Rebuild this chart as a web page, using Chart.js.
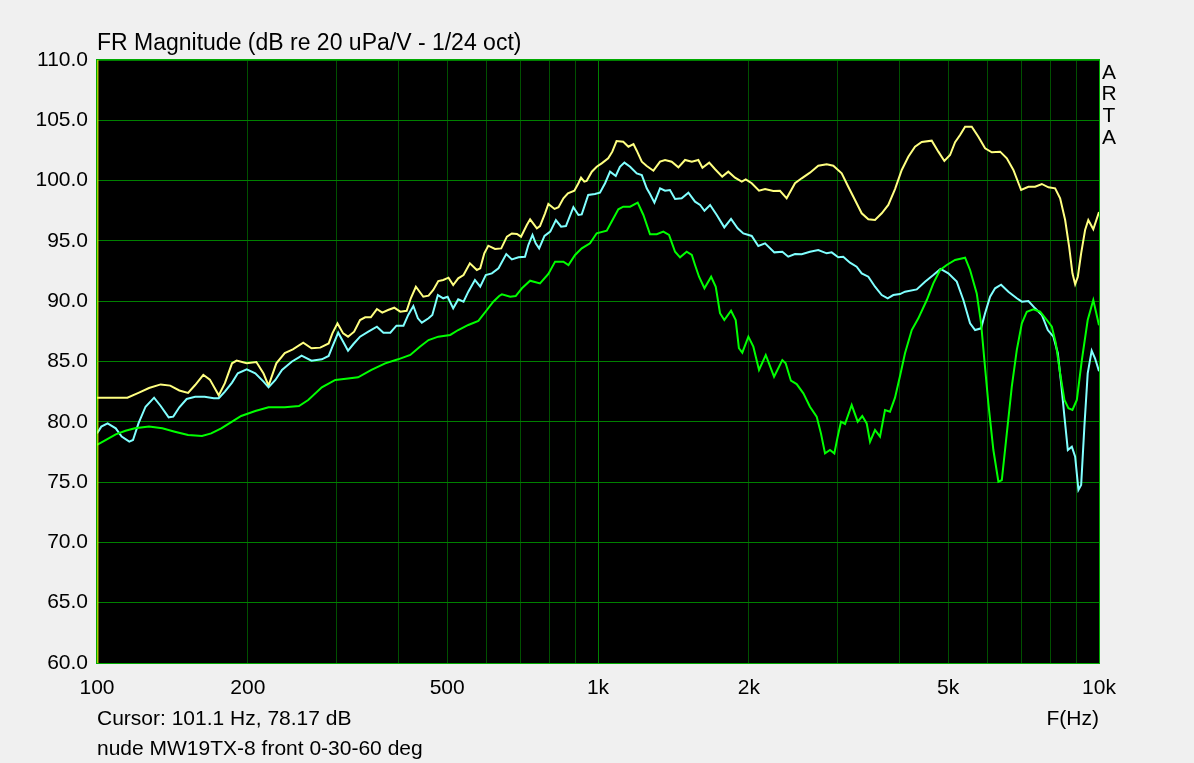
<!DOCTYPE html>
<html><head><meta charset="utf-8">
<script src="https://cdn.jsdelivr.net/npm/chart.js@4.4.1/dist/chart.umd.min.js"></script>
<style>html,body{margin:0;padding:0;background:#f0f0f0;overflow:hidden}</style>
</head><body>
<canvas id="c" width="1194" height="763"></canvas>
<script>
// ---- data ----
const xTicks = [100,200,300,400,500,600,700,800,900,1000,2000,3000,4000,5000,6000,7000,8000,9000,10000];
const xTickLabels = {100:'100',200:'200',500:'500',1000:'1k',2000:'2k',5000:'5k',10000:'10k'};
const yTicks = [60,65,70,75,80,85,90,95,100,105,110];

const yellowHz = [100,115,121,127,134,140,146,152,157,163,168,175,180,186,190,199,208,215,220,228,237,246,258,268,279,290,295,302,310,317,326,335,343,352,362,371,381,392,403,415,423,433,448,459,469,480,491,503,514,526,539,555,573,582,593,604,623,641,658,673,689,702,721,732,755,766,784,796,819,834,853,871,897,914,925,939,949,972,994,1017,1048,1068,1089,1123,1150,1177,1195,1223,1251,1290,1330,1361,1403,1447,1492,1539,1586,1616,1667,1713,1770,1820,1877,1936,1972,2027,2096,2155,2238,2308,2380,2473,2550,2649,2752,2861,2949,3065,3159,3258,3360,3464,3572,3684,3797,3916,4039,4163,4293,4428,4636,4779,4913,5043,5161,5281,5404,5572,5744,5924,6110,6348,6546,6747,6991,7229,7456,7689,7926,8174,8364,8559,8717,8851,8962,9073,9212,9381,9520,9741,10000];
const yellowDb = [82.0,82.0,82.4,82.8,83.1,83.0,82.6,82.4,83.05,83.9,83.5,82.2,83.2,84.85,85.07,84.85,84.96,84.0,83.0,84.85,85.7,86.0,86.56,86.1,86.15,86.5,87.33,88.16,87.33,87.06,87.47,88.44,88.66,88.66,89.35,89.05,89.27,89.46,89.13,89.2,90.24,91.2,90.37,90.46,90.93,91.67,91.76,91.95,91.34,91.9,92.17,93.14,92.59,92.73,93.97,94.6,94.33,94.38,95.35,95.62,95.57,95.35,96.32,96.79,96.04,96.23,97.29,98.06,97.65,97.79,98.53,98.95,99.16,99.78,100.24,99.91,99.97,100.74,101.15,101.43,101.85,102.4,103.28,103.22,102.81,103.03,102.48,101.57,101.21,100.82,101.57,101.71,101.57,101.1,101.71,101.57,101.71,101.07,101.49,100.94,100.33,100.74,100.24,99.91,100.1,99.78,99.16,99.3,99.13,99.16,98.53,99.78,100.19,100.66,101.24,101.35,101.24,100.6,99.49,98.39,97.29,96.79,96.73,97.29,97.98,99.3,100.88,101.98,102.81,103.2,103.31,102.4,101.63,102.12,103.18,103.78,104.47,104.47,103.64,102.68,102.35,102.4,101.85,100.88,99.22,99.49,99.49,99.72,99.44,99.36,98.53,96.73,94.52,92.31,91.4,92.03,93.97,95.9,96.73,95.96,97.4];

const cyanHz = [100,102,105,109,112,116,118,121,125,130,134,139,142,146,151,157,164,171,175,180,186,191,199,207,215,220,227,234,245,253,256,268,281,290,295,303,310,317,325,335,348,362,373,385,396,409,418,428,437,445,459,467,479,491,501,514,526,539,551,568,582,597,614,633,656,673,694,715,726,740,751,763,782,803,824,844,863,893,914,928,956,986,1009,1033,1057,1085,1106,1129,1159,1195,1223,1251,1270,1296,1330,1361,1392,1425,1469,1515,1562,1599,1631,1674,1726,1787,1843,1900,1950,2027,2089,2155,2249,2333,2397,2473,2550,2649,2752,2861,2927,3017,3087,3184,3283,3360,3464,3572,3684,3787,3885,4007,4100,4327,4495,4670,4827,5004,5201,5361,5529,5658,5816,5924,6062,6203,6376,6594,6853,7014,7229,7456,7689,7904,8110,8276,8403,8531,8665,8826,8962,9098,9212,9350,9494,9670,9818,10000];
const cyanDb = [79.04,79.6,79.87,79.46,78.77,78.35,78.49,79.87,81.25,82.0,81.31,80.37,80.43,81.2,81.89,82.08,82.08,81.95,81.95,82.5,83.25,84.02,84.35,84.02,83.33,82.86,83.47,84.3,85.0,85.35,85.48,85.07,85.18,85.46,86.23,87.39,86.64,85.9,86.45,87.06,87.47,87.89,87.39,87.39,87.97,87.97,88.86,89.6,88.58,88.22,88.58,88.86,90.51,90.24,90.37,89.41,90.15,89.96,90.79,91.76,91.2,92.17,92.31,92.73,93.91,93.47,93.64,93.69,94.66,95.49,94.8,94.38,95.41,95.77,96.73,96.18,96.23,97.79,97.15,97.2,98.81,98.89,99.0,99.78,100.74,100.38,101.15,101.49,101.15,100.6,100.46,99.36,98.89,98.17,99.36,99.16,99.22,98.47,98.53,99.0,98.25,97.98,97.5,97.98,97.15,96.12,96.82,96.04,95.62,95.41,94.58,94.8,94.05,94.1,93.69,93.91,93.89,94.1,94.24,93.97,94.05,93.64,93.69,93.19,92.86,92.31,92.03,91.2,90.51,90.24,90.51,90.59,90.79,90.98,91.62,92.17,92.67,92.31,91.62,90.1,88.17,87.61,87.75,89.0,90.37,91.07,91.37,90.79,90.24,89.96,90.02,89.41,88.86,87.61,87.06,85.68,83.19,80.43,77.66,77.94,77.11,74.35,74.76,79.6,84.02,85.9,85.27,84.2];

const greenHz = [100,104,109,114,119,127,135,143,152,162,169,177,186,194,207,220,237,253,264,281,299,317,332,353,376,399,422,441,459,480,507,526,551,577,600,618,635,643,668,685,705,732,766,796,821,853,873,900,928,964,994,1041,1065,1098,1123,1159,1200,1232,1270,1310,1350,1386,1425,1458,1503,1539,1562,1591,1631,1682,1718,1752,1787,1843,1883,1911,1941,1996,2042,2096,2162,2246,2333,2369,2427,2492,2570,2649,2732,2786,2839,2904,2963,3009,3055,3112,3209,3299,3369,3438,3491,3572,3655,3740,3827,3916,4007,4100,4229,4359,4532,4670,4817,4967,5161,5404,5529,5701,5816,5905,6014,6154,6298,6398,6546,6698,6853,7014,7176,7397,7629,7869,8051,8200,8364,8531,8689,8851,9031,9242,9494,9741,10000];
const greenDb = [78.08,78.49,78.96,79.26,79.46,79.6,79.46,79.18,78.9,78.82,79.04,79.46,80.01,80.48,80.9,81.2,81.2,81.31,81.81,82.86,83.47,83.6,83.69,84.3,84.85,85.18,85.54,86.23,86.78,87.06,87.2,87.61,88.03,88.36,89.27,89.96,90.43,90.57,90.37,90.43,91.07,91.7,91.48,92.26,93.28,93.28,93.0,93.83,94.38,94.8,95.63,95.85,96.6,97.62,97.84,97.84,98.17,97.15,95.55,95.55,95.77,95.49,94.1,93.64,94.1,93.83,93.0,92.03,91.07,92.03,91.2,89.0,88.44,89.21,88.44,86.1,85.73,87.06,86.23,84.3,85.54,83.74,85.12,84.85,83.41,83.13,82.36,81.25,80.43,79.04,77.38,77.66,77.38,78.77,80.01,79.82,81.39,80.01,80.48,79.87,78.35,79.32,78.77,80.98,80.84,82.0,83.8,85.68,87.61,88.58,90.1,91.48,92.59,93.0,93.42,93.61,92.59,90.65,88.17,85.12,81.53,77.66,75.03,75.17,79.04,82.91,85.95,88.17,89.13,89.33,89.13,88.44,87.89,86.51,84.02,81.81,81.12,80.98,81.81,85.12,88.44,90.1,88.0];

const cursorHz = [100.4, 100.4];
const cursorDb = [60, 110];

const titleText = 'FR Magnitude (dB re 20 uPa/V - 1/24 oct)';
const cursorText = 'Cursor: 101.1 Hz, 78.17 dB';
const noteText = 'nude MW19TX-8 front 0-30-60 deg';
const xAxisTitle = 'F(Hz)';
const brandLetters = ['A','R','T','A'];

// ---- chart ----
const FONT = '"Liberation Sans", Arial, sans-serif';
const FS = 21;
const TITLE_FS = 23;
const pts = (xs, ys) => xs.map((x, i) => ({x: x, y: ys[i]}));

const frame = {
  id: 'frame',
  beforeDraw(chart) {
    const {ctx, chartArea: a} = chart;
    ctx.save();
    ctx.fillStyle = '#f0f0f0';
    ctx.fillRect(0, 0, chart.width, chart.height);
    ctx.fillStyle = '#000000';
    ctx.fillRect(a.left, a.top, a.right - a.left, a.bottom - a.top);
    ctx.restore();
  },
  afterDraw(chart) {
    const {ctx, chartArea: a} = chart;
    ctx.save();
    ctx.strokeStyle = 'rgb(0,170,0)';
    ctx.lineWidth = 1;
    ctx.strokeRect(a.left - 0.5, a.top - 0.5, a.right - a.left + 1, a.bottom - a.top + 1);
    ctx.fillStyle = '#000';
    ctx.textBaseline = 'alphabetic';
    ctx.textAlign = 'left';
    ctx.font = TITLE_FS + 'px ' + FONT;
    ctx.fillText(titleText, a.left, 50);
    ctx.font = FS + 'px ' + FONT;
    ctx.fillText(cursorText, a.left, 725);
    ctx.fillText(noteText, a.left, 755);
    ctx.textAlign = 'right';
    ctx.fillText(xAxisTitle, a.right, 725);
    ctx.textAlign = 'center';
    ctx.textBaseline = 'middle';
    const ys = [73, 94, 116, 138];
    brandLetters.forEach((l, i) => ctx.fillText(l, a.right + 10, ys[i]));
    ctx.restore();
  }
};

new Chart(document.getElementById('c'), {
  type: 'line',
  data: {
    datasets: [
      {data: pts(cursorHz, cursorDb), borderColor: '#ffff00', borderWidth: 1, order: 0},
      {data: pts(yellowHz, yellowDb), borderColor: '#ffff80', borderWidth: 2, order: 3},
      {data: pts(cyanHz, cyanDb), borderColor: '#80ffff', borderWidth: 2, order: 2},
      {data: pts(greenHz, greenDb), borderColor: '#00ff00', borderWidth: 2, order: 1}
    ]
  },
  options: {
    responsive: false,
    animation: false,
    devicePixelRatio: 1,
    layout: {padding: {top: 60, right: 95, left: 0, bottom: 0}},
    plugins: {legend: {display: false}, tooltip: {enabled: false}, title: {display: false}},
    elements: {point: {radius: 0}, line: {tension: 0, fill: false}},
    scales: {
      x: {
        type: 'logarithmic', min: 100, max: 10000,
        afterFit(s) { s.height = 100; },
        afterBuildTicks(s) { s.ticks = xTicks.map(v => ({value: v})); },
        ticks: {autoSkip: false, maxRotation: 0, minRotation: 0, padding: 13, color: '#000',
          font: {family: FONT, size: FS},
          callback: v => xTickLabels[v] || ''},
        grid: {drawTicks: false, color: c => (c.tick && [100,1000,10000].includes(c.tick.value)) ? 'rgb(0,128,0)' : 'rgb(0,80,0)'},
        border: {display: false}
      },
      y: {
        min: 60, max: 110,
        afterFit(s) { s.width = 97; },
        afterBuildTicks(s) { s.ticks = yTicks.map(v => ({value: v})); },
        ticks: {padding: 9, color: '#000', font: {family: FONT, size: FS}, callback: v => Number(v).toFixed(1)},
        grid: {drawTicks: false, color: 'rgb(0,128,0)'},
        border: {display: false}
      }
    }
  },
  plugins: [frame]
});
</script>
</body></html>
